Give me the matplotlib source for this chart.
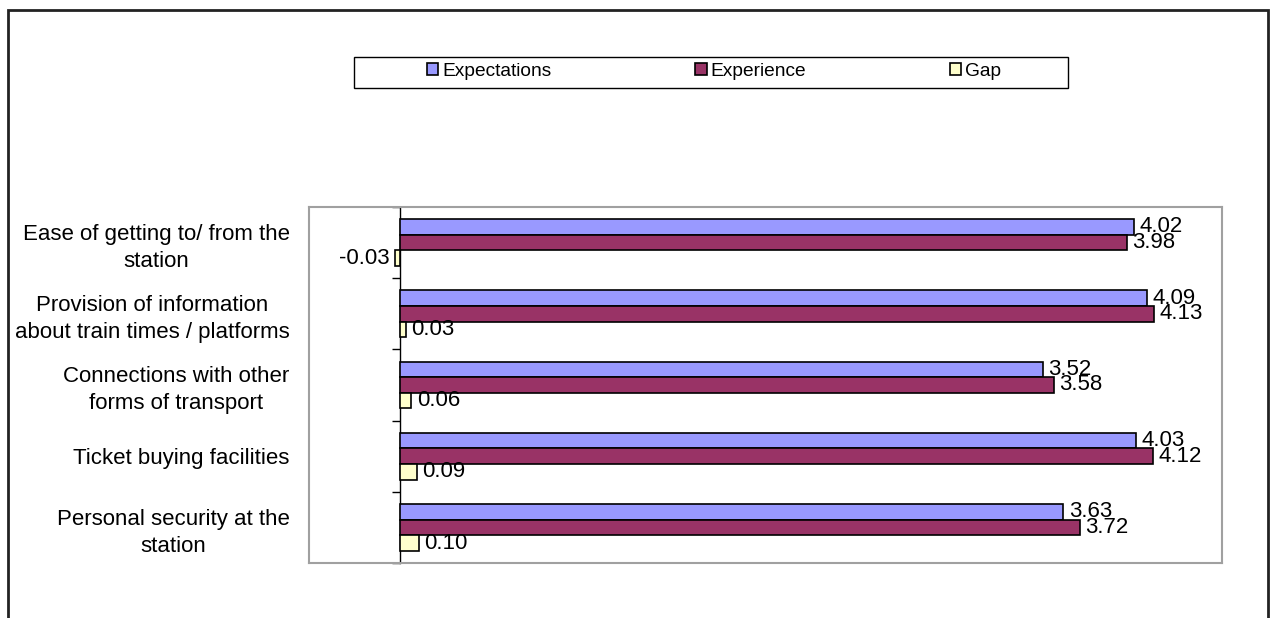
import numpy as np
import matplotlib
matplotlib.use('Agg')
import matplotlib.pyplot as plt
from matplotlib.patches import Rectangle

plt.rcParams['font.family'] = ['Liberation Sans', 'DejaVu Sans']

categories = ['Ease of getting to/ from the\nstation',
              'Provision of information\nabout train times / platforms',
              'Connections with other\nforms of transport',
              'Ticket buying facilities',
              'Personal security at the\nstation']
expectations = [4.02, 4.09, 3.52, 4.03, 3.63]
experience = [3.98, 4.13, 3.58, 4.12, 3.72]
gap = [-0.03, 0.03, 0.06, 0.09, 0.10]

series = [('Expectations', expectations, '#9999FF'),
          ('Experience', experience, '#993366'),
          ('Gap', gap, '#FFFFCC')]

W, H = 1274, 618
fig = plt.figure(figsize=(W / 100, H / 100), dpi=100)
ax = fig.add_axes([309 / W, 1 - 563 / H, 913 / W, 356 / H])

# outer chart border (bottom edge runs off the image)
fig.patches.append(Rectangle((8 / W, -0.1), 1260 / W, 1.1 - 10 / H,
                             transform=fig.transFigure, fill=False,
                             edgecolor='#222222', linewidth=2))
# legend box
fig.patches.append(Rectangle((354 / W, 1 - 88 / H), 714 / W, 31 / H,
                             transform=fig.transFigure, fill=False,
                             edgecolor='black', linewidth=1))

y = np.arange(len(categories))
h = 0.22
for k, (name, vals, col) in enumerate(series):
    bars = ax.barh(y + (k - 1) * h, vals, height=h, color=col,
                   edgecolor='black', linewidth=1.2, label=name)
    ax.bar_label(bars, fmt='%.2f', padding=4, fontsize=16)

xmin, xmax = -0.5, 4.5
ax.set_xlim(xmin, xmax)
ax.set_ylim(len(categories) - 0.5, -0.5)
ax.set_xticks([])
ax.set_yticks(y)
ax.set_yticklabels(categories, fontsize=16, multialignment='center', linespacing=1.35)
ax.tick_params(axis='y', length=0, pad=14)
for s in ax.spines.values():
    s.set_color('#A0A0A0')
    s.set_linewidth(1.5)

# category axis at zero with ticks between groups
sec = ax.secondary_yaxis((0 - xmin) / (xmax - xmin))
sec.set_yticks(np.arange(len(categories) + 1) - 0.5)
sec.set_yticklabels([])
sec.tick_params(length=6, width=1, color='black')
sec.spines['left'].set_color('black')
sec.spines['left'].set_linewidth(1)

leg = fig.legend(loc='center', bbox_to_anchor=(714 / W, 1 - 71 / H),
                 ncol=3, fontsize=13.8, frameon=False,
                 handlelength=0.6, handleheight=0.6, handletextpad=0.2,
                 columnspacing=7.5, borderaxespad=0, borderpad=0)
for p in leg.get_patches():
    p.set_edgecolor('black')

fig.savefig('out.png', dpi=100)
